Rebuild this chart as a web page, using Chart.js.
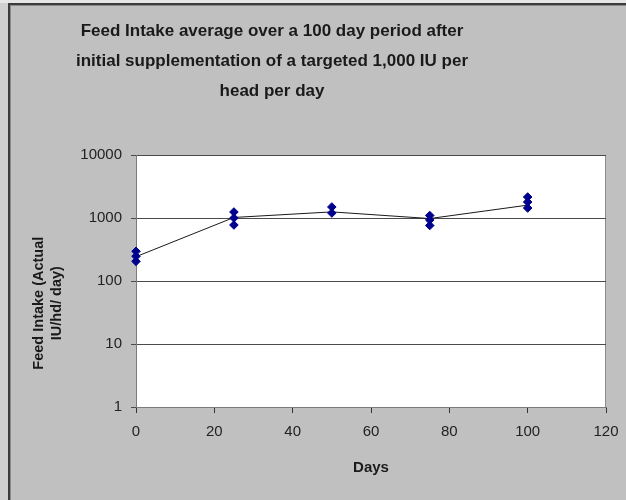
<!DOCTYPE html>
<html>
<head>
<meta charset="utf-8">
<script src="https://cdn.jsdelivr.net/npm/chart.js@4/dist/chart.umd.min.js"></script>
<style>
  html, body { margin: 0; padding: 0; background: #c0c0c0; }
  #wrap { width: 626px; height: 500px; }
</style>
</head>
<body>
<div id="wrap"><canvas id="c" width="626" height="500"></canvas></div>
<script>
// ---- data ----
const titleLines = [
  'Feed Intake average over a 100 day period after',
  'initial supplementation of a targeted 1,000 IU per',
  'head per day'
];
const xTitle = 'Days';
const yTitleLines = ['Feed Intake (Actual', 'IU/hd/ day)'];
const yTickValues = [1, 10, 100, 1000, 10000];

const sampleDays   = [0, 0, 0, 25, 25, 25, 50, 50, 75, 75, 75, 100, 100, 100];
const sampleIntake = [296, 247, 205, 1245, 1000, 774, 1495, 1200, 1096, 930, 760, 2154, 1795, 1441];

const meanDays   = [0, 25, 50, 75, 100];
const meanIntake = [243, 1020, 1250, 980, 1600];

// ---- build points ----
const samplePoints = sampleDays.map((d, i) => ({ x: d, y: sampleIntake[i] }));
const meanPoints = meanDays.map((d, i) => ({ x: d, y: meanIntake[i] }));

const bgPlugin = {
  id: 'bg',
  beforeDraw(chart) {
    const ctx = chart.ctx;
    const a = chart.chartArea;
    ctx.save();
    ctx.fillStyle = '#c0c0c0';
    ctx.fillRect(0, 0, chart.width, chart.height);
    ctx.fillStyle = '#e6e6e6';
    ctx.fillRect(0, 0, chart.width, 3);
    ctx.fillStyle = '#d0d0d0';
    ctx.fillRect(0, 3, 8, chart.height);
    ctx.fillStyle = '#3c3c3c';
    ctx.fillRect(8, 3, chart.width - 8, 2);
    ctx.fillRect(8, 3, 2, chart.height - 3);
    ctx.fillStyle = '#8a8a8a';
    ctx.fillRect(10, 5, chart.width - 10, 1);
    ctx.fillRect(10, 5, 1, chart.height - 5);
    ctx.fillStyle = '#ffffff';
    ctx.fillRect(a.left, a.top, a.right - a.left, a.bottom - a.top);
    ctx.strokeStyle = '#8c8c8c';
    ctx.lineWidth = 1;
    ctx.beginPath();
    ctx.moveTo(Math.round(a.right) - 0.5, a.top);
    ctx.lineTo(Math.round(a.right) - 0.5, a.bottom);
    ctx.stroke();
    ctx.restore();
  }
};

const pad = ' '.repeat(11);

new Chart(document.getElementById('c'), {
  type: 'scatter',
  data: {
    datasets: [
      {
        label: 'Samples',
        data: samplePoints,
        pointStyle: 'rectRot',
        pointRadius: 4.3,
        pointHoverRadius: 4.3,
        backgroundColor: '#00008f',
        borderColor: '#00008f',
        borderWidth: 1,
        showLine: false,
        clip: false,
        order: 0
      },
      {
        label: 'Average',
        data: meanPoints,
        showLine: true,
        borderColor: '#1a1a1a',
        borderWidth: 1,
        pointRadius: 0,
        tension: 0,
        fill: false,
        order: 1
      }
    ]
  },
  options: {
    responsive: false,
    animation: false,
    devicePixelRatio: 1,
    layout: { padding: { left: -62, right: 20, top: 0, bottom: 0 } },
    plugins: {
      legend: { display: false },
      tooltip: { enabled: false },
      title: {
        display: true,
        text: titleLines,
        color: '#1a1a1a',
        font: { family: '"Liberation Sans", Arial, sans-serif', size: 17, weight: 'bold', lineHeight: '30px' },
        padding: { top: 16.5, bottom: 48.5 }
      }
    },
    scales: {
      x: {
        type: 'linear',
        min: 0,
        max: 120,
        afterFit(scale) {
          scale.height = 93;
          scale.paddingLeft = 0;
          scale.paddingRight = 0;
        },
        ticks: {
          stepSize: 20,
          padding: 10,
          color: '#222',
          font: { family: '"Liberation Sans", Arial, sans-serif', size: 15 },
          maxRotation: 0
        },
        grid: {
          drawOnChartArea: false,
          drawTicks: true,
          tickLength: 6,
          color: '#333'
        },
        border: { display: true, color: '#7a7a7a', width: 1 },
        title: {
          display: true,
          text: xTitle,
          color: '#1a1a1a',
          font: { family: '"Liberation Sans", Arial, sans-serif', size: 15, weight: 'bold' },
          padding: { top: 0, bottom: 23 }
        }
      },
      y: {
        type: 'logarithmic',
        min: 1,
        max: 10000,
        afterFit(scale) { scale.width = 198; },
        afterBuildTicks(scale) {
          scale.ticks = yTickValues.map(v => ({ value: v }));
        },
        ticks: {
          padding: 9,
          color: '#222',
          font: { family: '"Liberation Sans", Arial, sans-serif', size: 15 },
          callback: (v) => String(v)
        },
        grid: {
          color: '#4a4a4a',
          lineWidth: 1,
          drawTicks: true,
          tickLength: 5
        },
        border: { display: true, color: '#7a7a7a', width: 1 },
        title: {
          display: true,
          text: yTitleLines.map(t => t + pad),
          color: '#1a1a1a',
          font: { family: '"Liberation Sans", Arial, sans-serif', size: 14.5, weight: 'bold', lineHeight: '18px' },
          padding: { top: 92, bottom: 0 }
        }
      }
    }
  },
  plugins: [bgPlugin]
});
</script>
</body>
</html>
